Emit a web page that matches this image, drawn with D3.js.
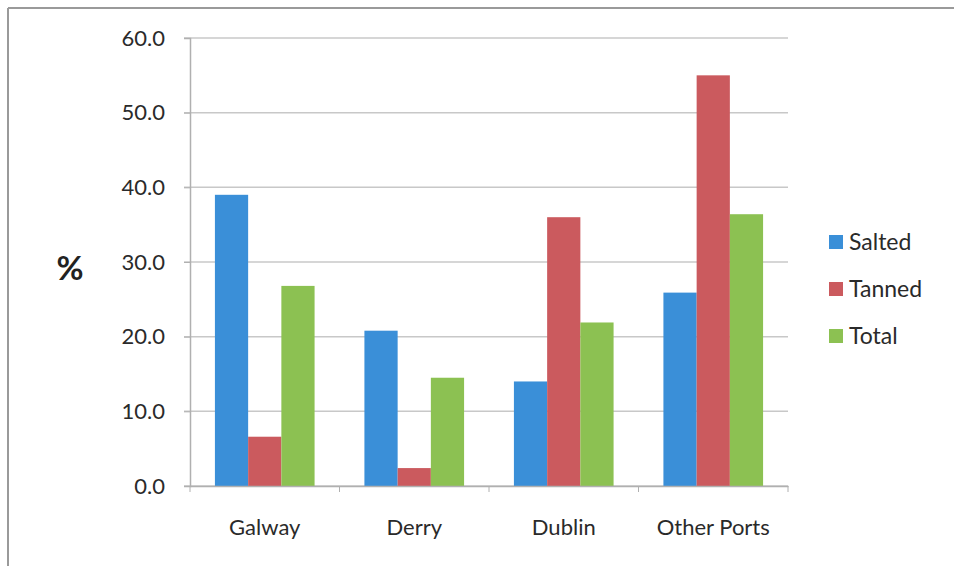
<!DOCTYPE html>
<html><head><meta charset="utf-8">
<script src="https://cdn.jsdelivr.net/npm/d3@7"></script>
<style>body{margin:0;background:#fff;}svg{display:block;font-family:Lato,"Open Sans",sans-serif;}</style>
</head><body>
<script>
const categories = ["Galway", "Derry", "Dublin", "Other Ports"];
const seriesNames = ["Salted", "Tanned", "Total"];
const salted = [39.0, 20.8, 14.0, 25.9];
const tanned = [6.6, 2.4, 36.0, 55.0];
const total = [26.8, 14.5, 21.9, 36.4];
const yTicks = [0, 10, 20, 30, 40, 50, 60];
const colors = ["#3a8fd8", "#cb5a5e", "#8cc152"];

const W = 954, H = 566;
const m = {left: 190, right: 166, top: 38, bottom: 80};
const svg = d3.select("body").append("svg").attr("width", W).attr("height", H);

// frame
svg.append("line").attr("x1", 8).attr("x2", 8).attr("y1", 8).attr("y2", H).attr("stroke", "#9a9a9a").attr("stroke-width", 2);
svg.append("line").attr("x1", 8).attr("x2", W).attr("y1", 8).attr("y2", 8).attr("stroke", "#9a9a9a").attr("stroke-width", 2);

const x = d3.scaleBand().domain(categories).range([m.left, W - m.right]).paddingInner(0).paddingOuter(0);
const y = d3.scaleLinear().domain([0, 60]).range([H - m.bottom, m.top]);
const inner = d3.scaleBand().domain(seriesNames).range([0, x.bandwidth()]).paddingInner(0).paddingOuter(0.75);

// gridlines
svg.append("g").selectAll("line").data(yTicks).join("line")
  .attr("x1", m.left - 6).attr("x2", W - m.right)
  .attr("y1", d => y(d)).attr("y2", d => y(d))
  .attr("stroke", "#c8c8c8").attr("stroke-width", 1.5);

// y axis
const ya = svg.append("g").attr("transform", `translate(${m.left},0)`)
  .call(d3.axisLeft(y).tickValues(yTicks).tickFormat(d3.format(".1f")).tickSize(6).tickPadding(19));
ya.select(".domain").attr("stroke", "#b0b0b0").attr("stroke-width", 1.5);
ya.selectAll(".tick line").attr("stroke", "#b0b0b0");
ya.selectAll("text").attr("font-size", 22).attr("fill", "#2a2a2a").attr("font-family", "Lato,sans-serif");

const data = [salted, tanned, total];
const g = svg.append("g");
seriesNames.forEach((s, si) => {
  g.selectAll(null).data(categories).join("rect")
    .attr("x", c => x(c) + inner(s))
    .attr("width", inner.bandwidth())
    .attr("y", (c, i) => y(data[si][i]))
    .attr("height", (c, i) => y(0) - y(data[si][i]))
    .attr("fill", colors[si]);
});

// x axis
const xa = svg.append("g").attr("transform", `translate(0,${y(0)})`)
  .call(d3.axisBottom(x).tickSize(0).tickPadding(33));
xa.select(".domain").attr("stroke", "#b0b0b0").attr("stroke-width", 1.5);
xa.selectAll("text").attr("font-size", 22).attr("fill", "#2a2a2a").attr("font-family", "Lato,sans-serif");
const bounds = [...categories.map(c => x(c)), x.range()[1]];
svg.append("g").selectAll("line").data(bounds).join("line")
  .attr("x1", d => d).attr("x2", d => d).attr("y1", y(0)).attr("y2", y(0) + 6)
  .attr("stroke", "#b0b0b0");

// y title
svg.append("text").attr("x", 70).attr("y", 280).attr("text-anchor", "middle")
  .attr("font-size", 33).attr("font-weight", "bold").attr("fill", "#222").text("%");

// legend
const lg = svg.append("g");
seriesNames.forEach((s, i) => {
  const yy = 242 + i * 47;
  lg.append("rect").attr("x", 829).attr("y", yy - 7).attr("width", 14).attr("height", 14).attr("fill", colors[i]);
  lg.append("text").attr("x", 849).attr("y", yy).attr("dy", "0.35em").attr("font-size", 23).attr("fill", "#2a2a2a").text(s);
});
</script>
</body></html>
